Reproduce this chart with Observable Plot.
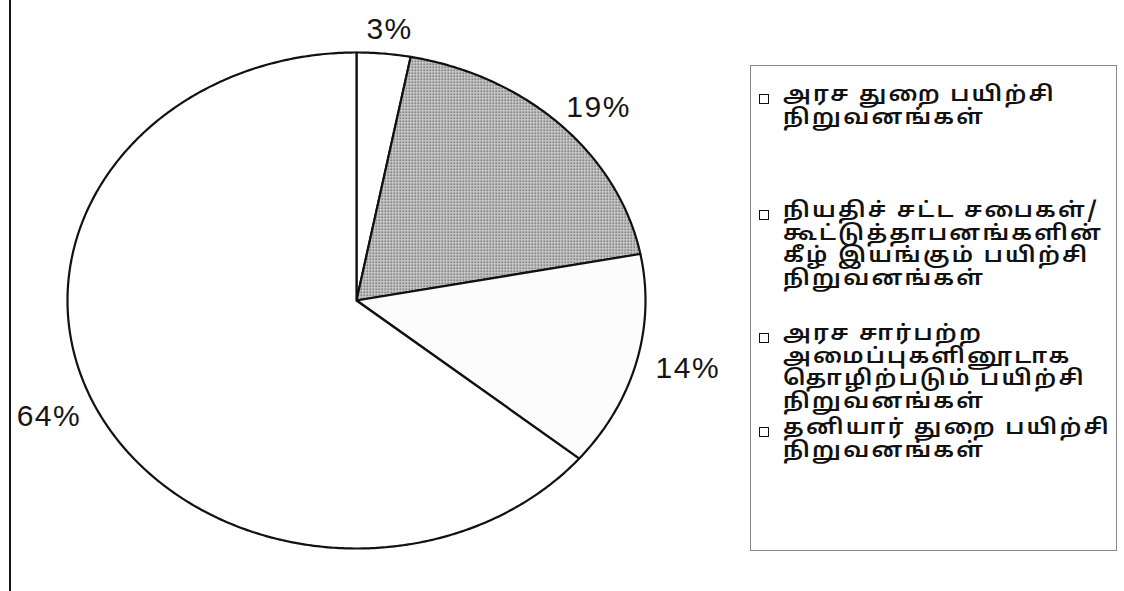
<!DOCTYPE html>
<html>
<head>
<meta charset="utf-8">
<script src="https://cdn.jsdelivr.net/npm/d3@7"></script>
<script src="https://cdn.jsdelivr.net/npm/@observablehq/plot@0.6"></script>
<style>
  html, body { margin: 0; padding: 0; background: #fff; }
  #wrap { position: relative; width: 1124px; height: 591px; overflow: hidden; background: #fff; }
  #frame { position: absolute; left: 9px; top: 0; width: 0; height: 591px; border-left: 2px solid #151515; }
  #legend { position: absolute; left: 750px; top: 65px; width: 367px; height: 486px; border: 1px solid #8a8a8a; box-sizing: border-box;
            font-family: "Noto Sans Tamil", "Lohit Tamil", "Noto Sans", "DejaVu Sans", sans-serif; color: #111; }
  .item { position: absolute; left: 0; width: 360px; }
  .sw { position: absolute; left: 8px; top: 8px; width: 8px; height: 8px; border: 1px solid #111; background: #fff; }
  .lbl { position: absolute; left: 32px; top: -1px; font-size: 21px; font-weight: 600; line-height: 22.5px; letter-spacing: 2px;
         white-space: pre; transform: scaleX(1.12); transform-origin: 0 0; }
</style>
</head>
<body>
<svg width="0" height="0" style="position:absolute">
  <defs>
    <pattern id="dots" width="3" height="3" patternUnits="userSpaceOnUse">
      <rect width="3" height="3" fill="#d2d2d2"></rect>
      <rect x="0" y="0" width="1.5" height="1.5" fill="#4a4a4a"></rect>
    </pattern>
  </defs>
</svg>
<div id="wrap">
  <div id="chart"></div>
  <div id="frame"></div>
  <div id="legend"></div>
</div>
<script>
// ---- data ----
const categories = [
  "அரச துறை பயிற்சி\nநிறுவனங்கள்",
  "நியதிச் சட்ட சபைகள்/\nகூட்டுத்தாபனங்களின்\nகீழ் இயங்கும் பயிற்சி\nநிறுவனங்கள்",
  "அரச சார்பற்ற\nஅமைப்புகளினூடாக\nதொழிற்படும் பயிற்சி\nநிறுவனங்கள்",
  "தனியார் துறை பயிற்சி\nநிறுவனங்கள்"
];
const values = [3, 19, 14, 64];
const percentLabels = ["3%", "19%", "14%", "64%"];

// ---- styles ----
const sliceFill = ["#ffffff", "url(#dots)", "#fcfcfc", "#ffffff"];
const legendTops = [20, 136, 259, 353];

// ---- geometry from values ----
const total = d3.sum(values);
let acc = 0;
const slices = values.map((v, i) => {
  const a0 = acc / total * 2 * Math.PI;
  acc += v;
  const a1 = acc / total * 2 * Math.PI;
  return {i, a0, a1, mid: (a0 + a1) / 2, label: percentLabels[i]};
});
function slicePoints(s) {
  const n = Math.max(2, Math.ceil((s.a1 - s.a0) / 0.01));
  const pts = [{x: 0, y: 0}];
  for (let k = 0; k <= n; k++) {
    const a = s.a0 + (s.a1 - s.a0) * k / n;
    pts.push({x: Math.sin(a), y: Math.cos(a)});
  }
  pts.push({x: 0, y: 0});
  return pts;
}
const labelData = slices.map(s => ({label: s.label, x: Math.sin(s.mid) * 1.18, y: Math.cos(s.mid) * 1.10}));

const chart = Plot.plot({
  width: 1124,
  height: 591,
  margin: 0,
  x: {domain: [-1, 1], range: [67, 645], axis: null},
  y: {domain: [-1, 1], range: [548, 52], axis: null},
  style: {background: "transparent", fontFamily: "'Liberation Sans', Arial, sans-serif", letterSpacing: "1.5px"},
  marks: [
    ...slices.map(s => Plot.line(slicePoints(s), {
      x: "x", y: "y", fill: sliceFill[s.i], stroke: "#111", strokeWidth: 2.2, strokeLinejoin: "round"
    })),
    Plot.text(labelData, {x: "x", y: "y", text: "label", fontSize: 30, fill: "#151515", textAnchor: "middle", dx: 1})
  ]
});
document.getElementById("chart").appendChild(chart);

// ---- legend ----
const legend = document.getElementById("legend");
categories.forEach((c, i) => {
  const item = document.createElement("div");
  item.className = "item";
  item.style.top = legendTops[i] + "px";
  const sw = document.createElement("div");
  sw.className = "sw";
  sw.style.background = sliceFill[i];
  const lbl = document.createElement("div");
  lbl.className = "lbl";
  lbl.textContent = c;
  item.appendChild(sw);
  item.appendChild(lbl);
  legend.appendChild(item);
});
</script>
</body>
</html>
